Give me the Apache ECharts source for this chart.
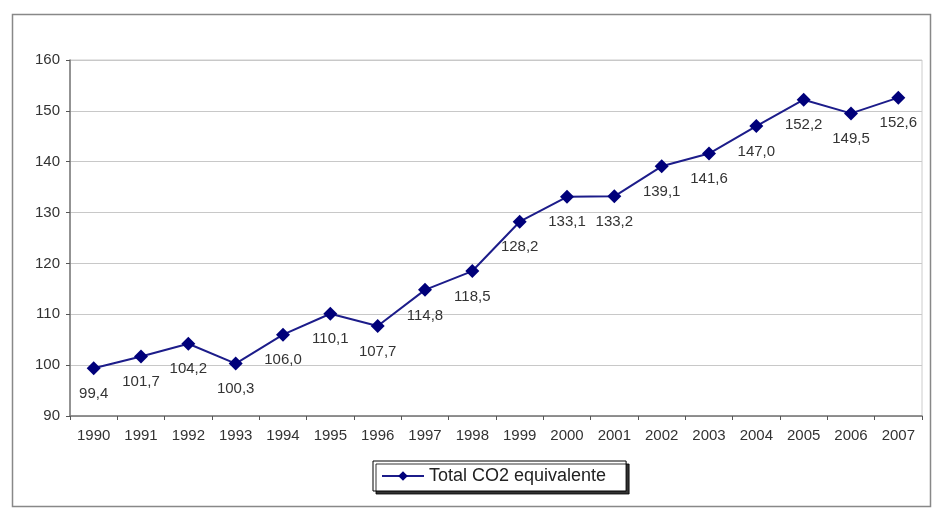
<!DOCTYPE html>
<html>
<head>
<meta charset="utf-8">
<script src="https://cdn.jsdelivr.net/npm/echarts@6/dist/echarts.min.js"></script>
<style>html,body{margin:0;padding:0;background:#fff}#c{width:935px;height:508px}</style>
</head>
<body>
<div id="c"></div>
<script>
var years = ['1990','1991','1992','1993','1994','1995','1996','1997','1998','1999','2000','2001','2002','2003','2004','2005','2006','2007'];
var co2Values = [99.4,101.7,104.2,100.3,106.0,110.1,107.7,114.8,118.5,128.2,133.1,133.2,139.1,141.6,147.0,152.2,149.5,152.6];
var seriesName = 'Total CO2 equivalente';

var chart = echarts.init(document.getElementById('c'));
chart.setOption({
  animation: false,
  backgroundColor: '#fff',
  textStyle: {fontFamily: 'Liberation Sans, Arial, sans-serif'},
  graphic: [{
    type: 'rect', shape: {x: 12.5, y: 14.5, width: 918, height: 492},
    style: {fill: 'none', stroke: '#888', lineWidth: 1.5}, z: -1
  }],
  grid: {left: 70, right: 13, top: 60, bottom: 92, show: true, borderColor: '#ccc', borderWidth: 1},
  legend: {
    data: [seriesName],
    bottom: 17, left: 373,
    itemWidth: 42, itemHeight: 12, itemGap: 10,
    backgroundColor: '#fff', borderColor: '#000', borderWidth: 1,
    shadowColor: 'rgba(0,0,0,0.8)', shadowOffsetX: 3, shadowOffsetY: 3, shadowBlur: 0,
    padding: [6, 20, 6, 8], borderRadius: 0,
    textStyle: {fontSize: 18, color: '#222', fontFamily: 'Liberation Sans, Arial, sans-serif'}
  },
  xAxis: {
    type: 'category', data: years, boundaryGap: true,
    axisLine: {lineStyle: {color: '#777', width: 1.5}},
    axisTick: {show: true, length: 4, lineStyle: {color: '#555'}},
    axisLabel: {color: '#333', fontSize: 15, margin: 12}
  },
  yAxis: {
    type: 'value', min: 90, max: 160, interval: 10,
    axisLine: {show: true, lineStyle: {color: '#777', width: 1.5}},
    axisTick: {show: true, length: 4, inside: false, lineStyle: {color: '#555'}},
    splitLine: {lineStyle: {color: '#c8c8c8'}},
    axisLabel: {color: '#333', fontSize: 15, margin: 10}
  },
  series: [{
    name: seriesName, type: 'line', data: co2Values,
    symbol: 'diamond', symbolSize: 14,
    lineStyle: {color: '#1c1c8a', width: 2},
    itemStyle: {color: '#00007a'},
    label: {
      show: true, position: 'bottom', distance: 11,
      color: '#333', fontSize: 15,
      formatter: function (p) { return p.value.toFixed(1).replace('.', ','); }
    }
  }]
});
</script>
</body>
</html>
